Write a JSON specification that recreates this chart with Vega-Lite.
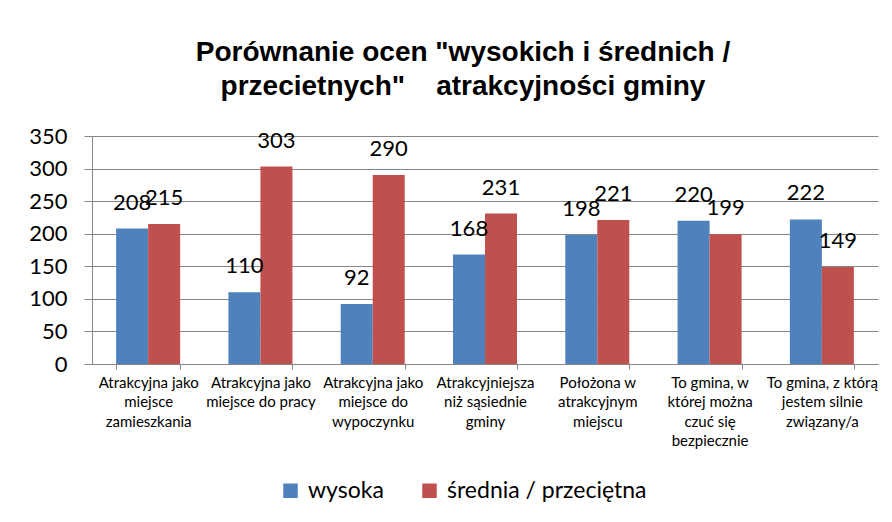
{
  "$schema": "https://vega.github.io/schema/vega-lite/v6.json",
  "width": 786,
  "height": 228,
  "autosize": {"type": "none"},
  "padding": {"left": 92, "top": 136, "right": 14, "bottom": 158},
  "background": "white",
  "title": {
    "text": ["Porównanie ocen \"wysokich i średnich /", "przecietnych\"\u00a0\u00a0\u00a0 atrakcyjności gminy"],
    "font": "Liberation Sans",
    "fontSize": 28,
    "fontWeight": "bold",
    "color": "#000000",
    "lineHeight": 34,
    "anchor": "middle",
    "dx": -22,
    "offset": 24
  },
  "data": {
    "values": [
      {"kategoria": "Atrakcyjna jako|miejsce|zamieszkania", "ocena": "wysoka", "liczba": 208},
      {"kategoria": "Atrakcyjna jako|miejsce|zamieszkania", "ocena": "średnia / przeciętna", "liczba": 215},
      {"kategoria": "Atrakcyjna jako|miejsce do pracy", "ocena": "wysoka", "liczba": 110},
      {"kategoria": "Atrakcyjna jako|miejsce do pracy", "ocena": "średnia / przeciętna", "liczba": 303},
      {"kategoria": "Atrakcyjna jako|miejsce do|wypoczynku", "ocena": "wysoka", "liczba": 92},
      {"kategoria": "Atrakcyjna jako|miejsce do|wypoczynku", "ocena": "średnia / przeciętna", "liczba": 290},
      {"kategoria": "Atrakcyjniejsza|niż sąsiednie|gminy", "ocena": "wysoka", "liczba": 168},
      {"kategoria": "Atrakcyjniejsza|niż sąsiednie|gminy", "ocena": "średnia / przeciętna", "liczba": 231},
      {"kategoria": "Położona w|atrakcyjnym|miejscu", "ocena": "wysoka", "liczba": 198},
      {"kategoria": "Położona w|atrakcyjnym|miejscu", "ocena": "średnia / przeciętna", "liczba": 221},
      {"kategoria": "To gmina, w|której można|czuć się|bezpiecznie", "ocena": "wysoka", "liczba": 220},
      {"kategoria": "To gmina, w|której można|czuć się|bezpiecznie", "ocena": "średnia / przeciętna", "liczba": 199},
      {"kategoria": "To gmina, z którą|jestem silnie|związany/a", "ocena": "wysoka", "liczba": 222},
      {"kategoria": "To gmina, z którą|jestem silnie|związany/a", "ocena": "średnia / przeciętna", "liczba": 149}
    ]
  },
  "encoding": {
    "x": {
      "field": "kategoria",
      "type": "nominal",
      "sort": null,
      "title": null,
      "scale": {"paddingInner": 0.43, "paddingOuter": 0.215},
      "axis": {
        "labelExpr": "split(datum.label, '|')",
        "labelAngle": 0,
        "labelFont": "Lato",
        "labelFontSize": 15,
        "labelColor": "#000000",
        "labelLineHeight": 19.5,
        "labelPadding": 6,
        "labelLimit": 0,
        "tickBand": "extent",
        "tickColor": "#868686",
        "tickSize": 5,
        "domainColor": "#868686",
        "grid": false
      }
    },
    "xOffset": {"field": "ocena", "type": "nominal", "sort": ["wysoka", "średnia / przeciętna"]},
    "y": {
      "field": "liczba",
      "type": "quantitative",
      "title": null,
      "scale": {"domain": [0, 350]},
      "axis": {
        "values": [0, 50, 100, 150, 200, 250, 300, 350],
        "labelFont": "Lato",
        "labelFontSize": 22,
        "labelColor": "#000000",
        "labelPadding": 17,
        "tickColor": "#868686",
        "tickSize": 8,
        "domainColor": "#868686",
        "gridColor": "#868686",
        "gridWidth": 1
      }
    }
  },
  "layer": [
    {
      "mark": {"type": "bar"},
      "encoding": {
        "color": {
          "field": "ocena",
          "type": "nominal",
          "sort": ["wysoka", "średnia / przeciętna"],
          "scale": {"domain": ["wysoka", "średnia / przeciętna"], "range": ["#4F81BD", "#C0504D"]},
          "legend": {
            "orient": "none",
            "legendX": 187,
            "legendY": 343,
            "padding": 0,
            "direction": "horizontal",
            "title": null,
            "symbolType": "square",
            "symbolSize": 210,
            "symbolStrokeWidth": 0,
            "labelFont": "Lato",
            "labelFontSize": 23,
            "labelColor": "#000000",
            "labelOffset": 6,
            "labelLimit": 0,
            "columnPadding": 34
          }
        }
      }
    },
    {
      "mark": {"type": "text", "baseline": "alphabetic", "dy": -19, "font": "Lato", "fontSize": 22, "color": "#000000"},
      "encoding": {
        "text": {"field": "liczba", "type": "quantitative"}
      }
    }
  ],
  "config": {
    "view": {"stroke": null}
  }
}
